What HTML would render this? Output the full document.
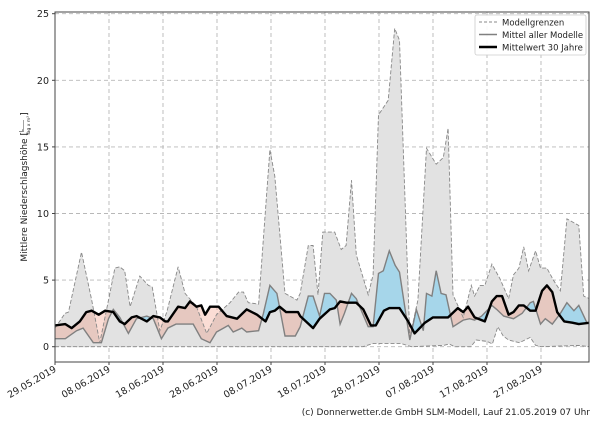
<!DOCTYPE html>
<html><head><meta charset="utf-8"><style>
body{margin:0;background:#fff;width:600px;height:420px;overflow:hidden}
svg text{font-family:"DejaVu Sans","Liberation Sans",sans-serif;fill:#222}
</style></head><body>
<svg id="s" width="600" height="420" xmlns="http://www.w3.org/2000/svg"></svg>
<script>
const X0=55,DX=5.4,Y0=346.7,SY=13.32;
const px=d=>X0+d*DX, py=v=>Y0-v*SY;
const up=[[0,1.4],[1.85,2.5],[2.5,2.6],[4.9,7.1],[6.8,3.5],[8.3,0.3],[9.9,3.5],[11.1,5.9],[12,6],[12.9,5.7],[13.9,3],[15.7,5.3],[17.3,4.6],[18,4.5],[19.4,1.2],[20.7,2.6],[22.8,6],[24.1,4],[26.2,3],[28.1,1],[29.9,2.4],[32.4,3.3],[34,4.1],[34.9,4.1],[35.8,3.3],[37.7,3.2],[39.8,14.8],[40.7,12.8],[42.6,4],[43.5,3.8],[44.8,3.5],[45.4,4],[46.9,7.6],[47.8,7.6],[48.7,3.9],[49.6,8.6],[51.8,8.6],[53,7.3],[53.9,7.6],[54.9,12.5],[55.8,6.9],[58,3.9],[58.9,5.4],[59.9,17.4],[61.7,18.5],[62.9,23.9],[63.8,23],[65.7,0.7],[67.2,3.5],[68.8,14.9],[70.6,13.7],[71.9,14.2],[72.8,16.4],[73.7,3.9],[75.6,2.2],[77.1,4.6],[77.7,3.8],[78.7,4.6],[79.6,4.6],[80.9,6.2],[82.4,5.1],[84,3.6],[84.9,5.4],[85.9,5.9],[86.8,7.5],[87.7,5.7],[89,7.2],[89.9,5.9],[91.1,5.9],[92.3,5],[93.6,4.2],[94.8,9.6],[97,9.1],[97.9,3.8],[99,3.6]];
const lo=[[0,0],[57,0],[59,0.25],[64,0.25],[66,0],[72,0.1],[73,0.2],[74,0],[77,0],[78,0.5],[80,0.4],[81,0.2],[82,1.5],[83,0.8],[84,0.5],[86,0.3],[88,0.7],[89,0.1],[90,0],[97,0.1],[99,0]];
const mn=[[0,0.6],[1.9,0.6],[4,1.2],[5.2,1.4],[7.1,0.3],[8.6,0.3],[9.9,2.1],[10.8,2.8],[12,2.2],[13.6,1],[15.1,2.1],[17,2.3],[18.2,2.1],[19.7,0.6],[20.9,1.4],[22.4,1.7],[25.6,1.7],[27.1,0.6],[28.7,0.3],[29.9,1.1],[31.2,1.4],[32.1,1.6],[33,1.1],[34.6,1.4],[35.5,1.1],[37.7,1.2],[38.6,2.5],[39.8,4.6],[41.1,4],[42.6,0.8],[44.5,0.8],[45.4,1.5],[46.9,3.8],[47.8,3.8],[49,2.3],[49.9,4],[50.9,4],[52.1,3.5],[52.8,1.7],[53.6,2.5],[54.9,4],[55.8,3.6],[58,1.5],[58.9,1.5],[59.9,5.5],[60.8,5.7],[61.9,7.2],[63,6.1],[63.8,5.6],[65.7,0.5],[66.9,2.8],[68.2,1.2],[68.8,4],[69.8,3.8],[70.6,5.7],[71.5,4],[72.4,3.9],[73.7,1.5],[75.6,2],[76.8,2.1],[77.7,2],[79,2.3],[80.9,3.1],[81.8,2.8],[83.1,2.3],[84.9,2.1],[86.5,2.5],[88,3.3],[88.6,3.4],[89.9,1.7],[90.8,2.1],[92.1,1.7],[93.6,2.5],[94.8,3.3],[96.1,2.7],[97,3.1],[98.5,1.8],[99,1.8]];
const bk=[[0,1.6],[1.9,1.7],[3.1,1.4],[4.6,1.9],[5.8,2.6],[6.8,2.7],[8.1,2.4],[9.3,2.7],[10.8,2.6],[12,1.9],[12.9,1.7],[14.2,2.2],[15.1,2.3],[17,1.9],[18.2,2.3],[19.4,2.2],[20.4,1.9],[20.9,1.9],[22.8,3],[24.1,2.9],[25,3.4],[26.2,3],[27.1,3.1],[27.8,2.4],[28.7,3],[30.3,3],[31.8,2.3],[33.7,2.1],[35.5,2.8],[37.4,2.4],[39,1.9],[39.8,2.6],[40.7,2.7],[41.6,3],[42.8,2.6],[45,2.6],[45.4,2.3],[47.8,1.4],[49,2.1],[50.9,2.8],[51.8,2.9],[52.8,3.4],[54,3.3],[55.8,3.3],[57.1,2.8],[58.5,1.6],[59.4,1.6],[60.9,2.7],[61.9,2.9],[63.8,2.9],[65.4,1.9],[66.6,1],[68.5,1.8],[70,2.2],[72.8,2.2],[74.6,2.9],[75.6,2.6],[76.5,3],[77.7,2.2],[79.6,1.9],[80.9,3.4],[81.8,3.8],[82.8,3.8],[84,2.4],[84.9,2.6],[85.9,3.1],[86.8,3.1],[88,2.7],[89,2.7],[90.2,4.2],[91.1,4.6],[92.1,4.1],[93,2.6],[94.3,1.9],[95.8,1.8],[97,1.7],[99,1.8]];
const pts=a=>a.map(p=>px(p[0]).toFixed(1)+','+py(p[1]).toFixed(1)).join(' ');
const rev=a=>a.slice().reverse();
const L=55,R=589,T=12,B=362;
let h='<defs><clipPath id="pa"><rect x="'+L+'" y="'+T+'" width="'+(R-L)+'" height="'+(B-T)+'"/></clipPath>';
h+='<clipPath id="abk"><polygon points="'+pts(bk)+' '+px(99)+',0 '+px(0)+',0"/></clipPath>';
h+='<clipPath id="amn"><polygon points="'+pts(mn)+' '+px(99)+',0 '+px(0)+',0"/></clipPath></defs>';
// grid
let g='';
for(let v=0;v<=25;v+=5){g+='<line x1="'+L+'" x2="'+R+'" y1="'+py(v)+'" y2="'+py(v)+'" stroke="#b8b8b8" stroke-dasharray="4,3" stroke-width="0.9"/>';}
for(let i=0;i<10;i++){const x=px(i*10);g+='<line x1="'+x+'" x2="'+x+'" y1="'+T+'" y2="'+B+'" stroke="#b8b8b8" stroke-dasharray="4,3" stroke-width="0.9"/>';}
h+=g;
h+='<g clip-path="url(#pa)">';
h+='<polygon points="'+pts(up)+' '+pts(rev(lo))+'" fill="#e2e2e2"/>';
h+='<polygon points="'+pts(mn)+' '+px(99)+','+py(0)+' '+px(0)+','+py(0)+'" fill="#a6d6ea" clip-path="url(#abk)"/>';
h+='<polygon points="'+pts(bk)+' '+px(99)+','+py(0)+' '+px(0)+','+py(0)+'" fill="rgba(240,130,100,0.27)" clip-path="url(#amn)"/>';
h+='<polyline points="'+pts(up)+'" fill="none" stroke="#888" stroke-width="0.9" stroke-dasharray="4,2"/>';
h+='<polyline points="'+pts(lo)+'" fill="none" stroke="#888" stroke-width="0.9" stroke-dasharray="4,2"/>';
h+='<polyline points="'+pts(mn)+'" fill="none" stroke="#808080" stroke-width="1.4"/>';
h+='<polyline points="'+pts(bk)+'" fill="none" stroke="#000" stroke-width="2.4" stroke-linejoin="round"/>';
h+='</g>';
h+='<rect x="'+L+'" y="'+T+'" width="'+(R-L)+'" height="'+(B-T)+'" fill="none" stroke="#444" stroke-width="1"/>';
for(let v=0;v<=25;v+=5){const y=py(v);h+='<line x1="'+(L-3)+'" x2="'+L+'" y1="'+y+'" y2="'+y+'" stroke="#444"/><text x="'+(L-6)+'" y="'+(y+3.5)+'" font-size="9.5" text-anchor="end">'+v+'</text>';}
const dl=['29.05.2019','08.06.2019','18.06.2019','28.06.2019','08.07.2019','18.07.2019','28.07.2019','07.08.2019','17.08.2019','27.08.2019'];
dl.forEach((d,i)=>{const x=px(i*10);h+='<line x1="'+x+'" x2="'+x+'" y1="'+B+'" y2="'+(B+3)+'" stroke="#444"/><text transform="translate('+(x+2)+','+(B+9)+') rotate(-30)" font-size="9.5" text-anchor="end">'+d+'</text>';});
h+='<text transform="translate(27,187) rotate(-90)" font-size="9" text-anchor="middle">Mittlere Niederschlagshöhe [<tspan font-size="5" dy="-4">L</tspan><tspan font-size="4.5" dy="7" dx="-6">Tag x m²</tspan><tspan dy="-3">]</tspan></text>';
h+='<line x1="'+(23.5)+'" x2="23.5" y1="120" y2="132" stroke="#444" stroke-width="0.5"/>';
// legend
h+='<rect x="475" y="15" width="111" height="40" fill="#fff" fill-opacity="0.9" stroke="#ccc" stroke-width="0.8" rx="2"/>';
h+='<line x1="479" x2="497" y1="22" y2="22" stroke="#888" stroke-dasharray="3,2"/><text x="502" y="25.5" font-size="8.5">Modellgrenzen</text>';
h+='<line x1="479" x2="497" y1="34.5" y2="34.5" stroke="#808080" stroke-width="1.4"/><text x="502" y="38" font-size="8.5">Mittel aller Modelle</text>';
h+='<line x1="479" x2="497" y1="47" y2="47" stroke="#000" stroke-width="2.4"/><text x="502" y="50.5" font-size="8.5">Mittelwert 30 Jahre</text>';
h+='<text x="590" y="415" font-size="9" text-anchor="end">(c) Donnerwetter.de GmbH SLM-Modell, Lauf 21.05.2019 07 Uhr</text>';
document.getElementById('s').innerHTML=h;
</script>
</body></html>
